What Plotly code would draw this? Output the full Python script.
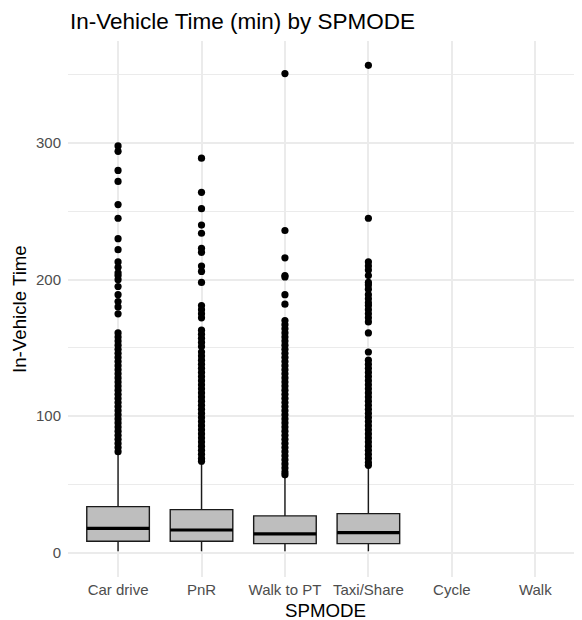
import plotly.graph_objects as go

categories = ["Car drive", "PnR", "Walk to PT", "Taxi/Share", "Cycle", "Walk"]

# Box statistics (Cycle and Walk have no data)
q1 = [8.3, 8.3, 6.6, 6.6]
median = [17.8, 16.6, 13.7, 14.7]
q3 = [33.7, 31.5, 26.9, 28.6]
lower = [1, 1, 1, 1]
upper = [72, 66, 56, 62]

car_out = [298, 294, 280, 272, 255, 245, 230, 222, 213, 209, 205, 203, 200, 195, 189,
           184, 180, 175, 161, 158, 155, 152, 149, 146, 143, 140, 137, 134, 131, 128,
           125, 122, 119, 116, 113, 110, 107, 104, 101, 98, 95, 92, 89, 86, 83, 80, 77, 74]
pnr_out = [289, 264, 252, 240, 234, 223, 220, 210, 206, 198, 181, 178, 175, 172, 163,
           160, 157, 154, 151, 147, 144, 141, 138, 135, 132, 129, 126, 123, 120, 117,
           114, 111, 108, 105, 102, 99, 96, 93, 90, 87, 84, 81, 78, 75, 72, 69, 67]
walkpt_out = [351, 236, 216, 203, 202, 189, 182, 170, 167, 164, 161, 158, 155, 152, 149,
              146, 143, 140, 137, 134, 131, 128, 125, 122, 119, 116, 113, 110, 107, 104,
              101, 98, 95, 92, 89, 86, 83, 80, 77, 74, 71, 68, 65, 62, 59, 57]
taxi_out = [357, 245, 213, 210, 207, 203, 198, 196, 193, 189, 186, 183, 181, 178, 175,
            172, 169, 161, 147, 141, 138, 135, 132, 129, 126, 123, 120, 117, 114, 111,
            108, 105, 102, 99, 96, 93, 90, 87, 84, 81, 78, 75, 72, 69, 66, 64]
outliers = [car_out, pnr_out, walkpt_out, taxi_out]

y_ticks = [0, 100, 200, 300]
y_minor = [50, 150, 250, 350]

FONT = "Liberation Sans, Arial, Helvetica, sans-serif"
BOX_W = 0.75
fig = go.Figure()
for i in range(len(q1)):
    fig.add_trace(go.Box(
        x=[i], q1=[q1[i]], median=[median[i]], q3=[q3[i]],
        lowerfence=[lower[i]], upperfence=[upper[i]],
        width=BOX_W, fillcolor="#bebebe",
        line=dict(color="#1a1a1a", width=1.4), whiskerwidth=0,
        boxpoints=False, showlegend=False, hoverinfo="skip"))
    fig.add_trace(go.Scatter(
        x=[i - BOX_W / 2, i + BOX_W / 2], y=[median[i], median[i]],
        mode="lines", line=dict(color="black", width=3.2),
        showlegend=False, hoverinfo="skip"))
    fig.add_trace(go.Scatter(
        x=[i] * len(outliers[i]), y=outliers[i], mode="markers",
        marker=dict(color="black", size=7.2, line=dict(width=0)),
        showlegend=False))

all_vals = [v for o in outliers for v in o] + lower
ymin, ymax = min(0, min(all_vals)), max(all_vals)
pad = 0.05 * (ymax - ymin)

# page has an 8px body margin; figure sized to fit the 582x620 window
fig.update_layout(
    width=574, height=612,
    paper_bgcolor="white", plot_bgcolor="white",
    margin=dict(l=60, r=0, t=32.5, b=43, autoexpand=False),
    font=dict(family=FONT, color="#000000"),
    title=dict(text="In-Vehicle Time (min) by SPMODE", x=62 / 574, xref="container",
               xanchor="left", y=1 - 13 / 612, yref="container", yanchor="middle",
               font=dict(size=22.5, color="black")),
    xaxis=dict(range=[-0.6, 5.56], tickmode="array",
               tickvals=list(range(len(categories))), ticktext=categories,
               showgrid=True, gridcolor="#ebebeb", gridwidth=1.5, zeroline=False,
               showline=False, ticks="", automargin=False, ticklabelstandoff=2,
               tickfont=dict(size=15, color="#4d4d4d")),
    yaxis=dict(range=[ymin - pad, ymax + pad], tickmode="array", tickvals=y_ticks,
               showgrid=True, gridcolor="#ebebeb", gridwidth=1.5, zeroline=False,
               showline=False, ticks="", automargin=False, ticklabelstandoff=6,
               tickfont=dict(size=15, color="#4d4d4d"),
               minor=dict(tickmode="array", tickvals=y_minor, showgrid=True,
                          gridcolor="#ebebeb", gridwidth=0.8, ticks="")),
    annotations=[
        dict(text="SPMODE", xref="paper", yref="paper", x=0.5, y=0,
             yshift=-33, xanchor="center", yanchor="middle", showarrow=False,
             font=dict(size=18.7, color="black")),
        dict(text="In-Vehicle Time", xref="paper", yref="paper", x=0, y=0.5,
             xshift=-49, textangle=-90, xanchor="center", yanchor="middle",
             showarrow=False, font=dict(size=18.7, color="black")),
    ],
)

fig.write_html("out.html")
